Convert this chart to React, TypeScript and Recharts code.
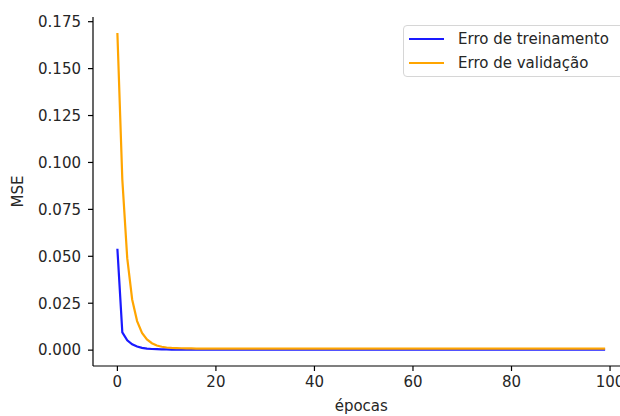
import { LineChart, Line, XAxis, YAxis, Legend } from "recharts";

const epochs: number[] = [];
for (let i = 0; i < 100; i++) epochs.push(i);

const trainError: number[] = [
    0.054, 0.0095, 0.0052, 0.0031, 0.0019, 0.0012, 0.0008, 0.0006, 0.0005, 0.0004,
    0.0004, 0.0003, 0.0003, 0.0003, 0.0003, 0.0003, 0.0003, 0.0003, 0.0003, 0.0003,
    0.0003, 0.0003, 0.0003, 0.0003, 0.0003, 0.0003, 0.0003, 0.0003, 0.0003, 0.0003,
    0.0003, 0.0003, 0.0003, 0.0003, 0.0003, 0.0003, 0.0003, 0.0003, 0.0003, 0.0003,
    0.0003, 0.0003, 0.0003, 0.0003, 0.0003, 0.0003, 0.0003, 0.0003, 0.0003, 0.0003,
    0.0003, 0.0003, 0.0003, 0.0003, 0.0003, 0.0003, 0.0003, 0.0003, 0.0003, 0.0003,
    0.0003, 0.0003, 0.0003, 0.0003, 0.0003, 0.0003, 0.0003, 0.0003, 0.0003, 0.0003,
    0.0003, 0.0003, 0.0003, 0.0003, 0.0003, 0.0003, 0.0003, 0.0003, 0.0003, 0.0003,
    0.0003, 0.0003, 0.0003, 0.0003, 0.0003, 0.0003, 0.0003, 0.0003, 0.0003, 0.0003,
    0.0003, 0.0003, 0.0003, 0.0003, 0.0003, 0.0003, 0.0003, 0.0003, 0.0003, 0.0003,
];

const valError: number[] = [
    0.169, 0.091, 0.049, 0.027, 0.0155, 0.0092, 0.0057, 0.0037, 0.0025, 0.0018,
    0.0014, 0.0012, 0.0011, 0.001, 0.0009, 0.0009, 0.0008, 0.0008, 0.0008, 0.0008,
    0.0008, 0.0008, 0.0008, 0.0008, 0.0008, 0.0008, 0.0008, 0.0008, 0.0008, 0.0008,
    0.0008, 0.0008, 0.0008, 0.0008, 0.0008, 0.0008, 0.0008, 0.0008, 0.0008, 0.0008,
    0.0008, 0.0008, 0.0008, 0.0008, 0.0008, 0.0008, 0.0008, 0.0008, 0.0008, 0.0008,
    0.0008, 0.0008, 0.0008, 0.0008, 0.0008, 0.0008, 0.0008, 0.0008, 0.0008, 0.0008,
    0.0008, 0.0008, 0.0008, 0.0008, 0.0008, 0.0008, 0.0008, 0.0008, 0.0008, 0.0008,
    0.0008, 0.0008, 0.0008, 0.0008, 0.0008, 0.0008, 0.0008, 0.0008, 0.0008, 0.0008,
    0.0008, 0.0008, 0.0008, 0.0008, 0.0008, 0.0008, 0.0008, 0.0008, 0.0008, 0.0008,
    0.0008, 0.0008, 0.0008, 0.0008, 0.0008, 0.0008, 0.0008, 0.0008, 0.0008, 0.0008,
];

const xTicks: number[] = [0, 20, 40, 60, 80, 100];
const yTicks: number[] = [0, 0.025, 0.05, 0.075, 0.1, 0.125, 0.15, 0.175];

const seriesNames: string[] = ["Erro de treinamento", "Erro de validação"];
const seriesColors: string[] = ["#1a1aff", "#ffa500"];

const data = epochs.map((e, i) => ({ epoca: e, treino: trainError[i], validacao: valError[i] }));

const font = "'DejaVu Sans', sans-serif";
const tickStyle = { fontSize: 15, fill: "#262626", fontFamily: font };

const LegendBox = () => (
    <div
        style={{
            position: "absolute",
            left: 403,
            top: 25,
            width: 240,
            height: 52,
            border: "1px solid #d6d6d6",
            borderRadius: 4,
            background: "rgba(255,255,255,0.8)",
            fontFamily: font,
            fontSize: 15,
            color: "#262626",
            boxSizing: "border-box",
        }}
    >
        {seriesNames.map((n, i) => (
            <div key={n} style={{ position: "absolute", left: 5, top: 3 + i * 24, height: 20, display: "flex", alignItems: "center", whiteSpace: "nowrap" }}>
                <span style={{ display: "inline-block", width: 35, height: 2.2, background: seriesColors[i], marginRight: 14 }} />
                <span>{n}</span>
            </div>
        ))}
    </div>
);

export default function App() {
    return (
        <div style={{ position: "absolute", left: 0, top: 0, width: 620, height: 416, overflow: "hidden", background: "#fff" }}>
            <LineChart width={640} height={416} data={data} margin={{ top: 17, right: 10.5, left: 0, bottom: 0 }}>
                <XAxis
                    dataKey="epoca"
                    type="number"
                    domain={[-4.95, 103.95]}
                    ticks={xTicks}
                    allowDataOverflow
                    height={50}
                    tick={tickStyle}
                    tickSize={5}
                    tickMargin={5}
                    stroke="#000"
                    strokeWidth={1.2}
                    label={{ value: "épocas", position: "insideBottom", offset: 5, style: { fontSize: 15, fill: "#262626", fontFamily: font } }}
                />
                <XAxis xAxisId="top" orientation="top" dataKey="epoca" type="number" domain={[-4.95, 103.95]} tick={false} tickLine={false} height={0} stroke="#000" strokeWidth={1.2} />
                <YAxis
                    type="number"
                    domain={[-0.00845, 0.1775]}
                    ticks={yTicks}
                    allowDataOverflow
                    width={93}
                    tick={tickStyle}
                    tickSize={5}
                    tickMargin={7}
                    tickFormatter={(v: number) => v.toFixed(3)}
                    stroke="#000"
                    strokeWidth={1.2}
                    label={{ value: "MSE", angle: -90, position: "insideLeft", offset: 18, style: { fontSize: 15, fill: "#262626", fontFamily: font, textAnchor: "middle" } }}
                />
                <Legend content={() => null} />
                <Line type="linear" dataKey="treino" name={seriesNames[0]} stroke={seriesColors[0]} strokeWidth={2.2} dot={false} isAnimationActive={false} />
                <Line type="linear" dataKey="validacao" name={seriesNames[1]} stroke={seriesColors[1]} strokeWidth={2.2} dot={false} isAnimationActive={false} />
            </LineChart>
            <LegendBox />
        </div>
    );
}
